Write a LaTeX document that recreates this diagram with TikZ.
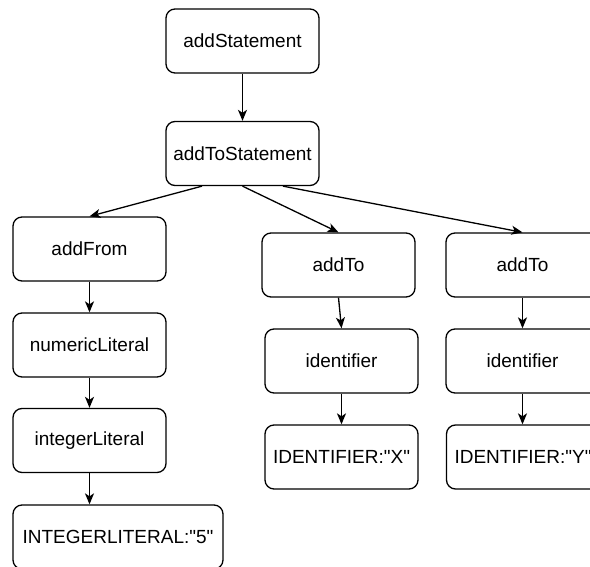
\documentclass[tikz,border=0pt]{standalone}
\usepackage{fontspec}
\setmainfont{Liberation Sans}
\usetikzlibrary{arrows.meta}
\tikzset{
  box/.style={draw=black, line width=1.3pt, rounded corners=9pt, fill=white,
    minimum width=153pt, minimum height=64pt, inner sep=0pt,
    font=\fontsize{19}{23}\selectfont},
  link/.style={draw=black, line width=1.3pt,
    -{Stealth[length=11pt, width=9pt, inset=3pt]}}
}
\newcommand{\qq}{\textquotedbl}
\begin{document}
\begin{tikzpicture}[x=1pt, y=-1pt]
  \useasboundingbox (0,0) rectangle (590,567);
  \clip (0,0) rectangle (590,567);
  \fill[white] (0,0) rectangle (590,567);

  % root and its child
  \node[box] (stmt) at (242.5,41) {addStatement};
  \node[box] (tostmt) at (242.5,153.5) {addToStatement};

  % left branch
  \node[box] (from) at (89.5,249) {addFrom};
  \node[box] (numlit) at (89.5,345) {numericLiteral};
  \node[box] (intlit) at (89.5,440.5) {integerLiteral};
  \node[box, minimum width=210pt] (intval) at (118,537) {INTEGERLITERAL:\qq5\qq};

  % middle branch
  \node[box] (tox) at (338.5,265) {addTo};
  \node[box] (idx) at (341.5,361) {identifier};
  \node[box] (valx) at (341.5,457) {IDENTIFIER:\qq X\qq};

  % right branch
  \node[box] (toy) at (522.5,265) {addTo};
  \node[box] (idy) at (522.5,361) {identifier};
  \node[box] (valy) at (523,457) {IDENTIFIER:\qq Y\qq};

  % connectors
  \draw[link] (stmt.south) -- (tostmt.north);
  \draw[link] ([xshift=-40.5pt]tostmt.south) -- (from.north);
  \draw[link] (tostmt.south) -- (tox.north);
  \draw[link] ([xshift=40.5pt]tostmt.south) -- (toy.north);

  \draw[link] (from.south) -- (numlit.north);
  \draw[link] (numlit.south) -- (intlit.north);
  \draw[link] (intlit.south) -- ([xshift=-28.5pt]intval.north);

  \draw[link] (tox.south) -- (idx.north);
  \draw[link] (idx.south) -- (valx.north);

  \draw[link] (toy.south) -- (idy.north);
  \draw[link] (idy.south) -- ([xshift=-0.5pt]valy.north);
\end{tikzpicture}
\end{document}
